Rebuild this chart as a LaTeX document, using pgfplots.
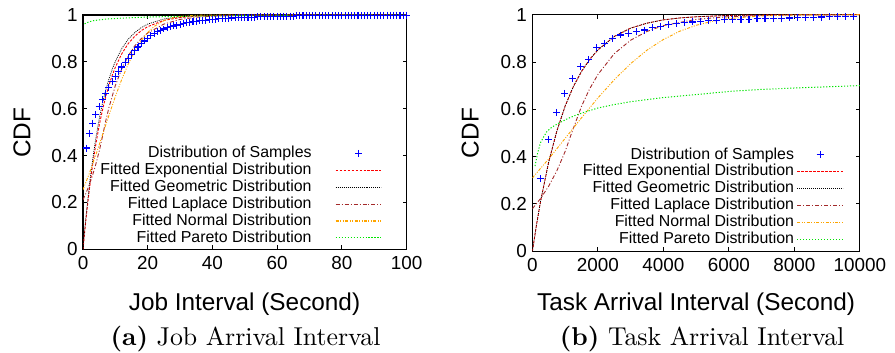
\documentclass[border=0pt]{standalone}
\usepackage{fontspec}
\setmainfont{Liberation Sans}
\newfontfamily\capfont{lmroman10-regular}[Extension=.otf, BoldFont=lmroman10-bold]
\usepackage{pgfplots}
\pgfplotsset{compat=1.18}

% one colour set per use (plots / legend of each panel)
\definecolor{cblueA}{RGB}{0,0,255}\definecolor{credA}{RGB}{255,0,0}\definecolor{cblkA}{RGB}{0,0,0}
\definecolor{cbrnA}{RGB}{165,42,42}\definecolor{corgA}{RGB}{255,165,0}\definecolor{cgrnA}{RGB}{0,230,0}
\definecolor{cblueB}{RGB}{0,0,254}\definecolor{credB}{RGB}{254,0,0}\definecolor{cblkB}{RGB}{1,1,1}
\definecolor{cbrnB}{RGB}{164,42,42}\definecolor{corgB}{RGB}{254,165,0}\definecolor{cgrnB}{RGB}{0,229,0}
\definecolor{cblueC}{RGB}{0,0,253}\definecolor{credC}{RGB}{253,0,0}\definecolor{cblkC}{RGB}{2,2,2}
\definecolor{cbrnC}{RGB}{163,42,42}\definecolor{corgC}{RGB}{253,165,0}\definecolor{cgrnC}{RGB}{0,228,0}
\definecolor{cblueD}{RGB}{0,0,252}\definecolor{credD}{RGB}{252,0,0}\definecolor{cblkD}{RGB}{3,3,3}
\definecolor{cbrnD}{RGB}{162,42,42}\definecolor{corgD}{RGB}{252,165,0}\definecolor{cgrnD}{RGB}{0,227,0}

\pgfplotsset{
  cdfax/.style={
    scale only axis,
    ymin=0, ymax=1,
    ytick={0,0.2,0.4,0.6,0.8,1},
    yticklabels={0,0.2,0.4,0.6,0.8,1},
    tick align=inside,
    major tick length=4bp,
    axis line style={line width=1.2pt},
    every tick/.style={black, line width=0.9pt},
    tick label style={font=\fontsize{19}{20}\selectfont},
    /pgf/number format/assume math mode=true,
    xticklabel style={yshift=-4bp},
    yticklabel style={xshift=-2bp},
    legend plot pos=right,
    legend cell align=right,
    legend image code/.code={\draw[mark repeat=2,mark phase=2,##1,line width=1.2pt] plot coordinates {(0bp,0bp) (23bp,0bp) (46bp,0bp)};},
    legend style={draw=none, fill=none, anchor=south east, inner sep=0pt, row sep=0pt,
      font=\fontsize{16}{17}\selectfont,
      nodes={inner sep=0.5pt, text height=12.2pt, text depth=3.8pt}},
  },
  samp/.style={only marks, mark=+, mark size=3.5bp, color=cblue#1, draw=cblue#1,
    mark options={draw=cblue#1, line width=1.1pt, solid}},
  fexp/.style={color=cred#1, draw=cred#1, no marks, line width=0.9pt, dash pattern=on 2.5bp off 1.5bp},
  fgeo/.style={color=cblk#1, draw=cblk#1, no marks, line width=0.7pt, dash pattern=on 1bp off 1bp},
  flap/.style={color=cbrn#1, draw=cbrn#1, no marks, line width=0.9pt, dash pattern=on 4bp off 2bp on 1bp off 2bp},
  fnor/.style={color=corg#1, draw=corg#1, no marks, line width=0.9pt, dash pattern=on 3bp off 1.5bp on 1bp off 1.5bp on 1bp off 1.5bp},
  fpar/.style={color=cgrn#1, draw=cgrn#1, no marks, line width=1pt, dash pattern=on 1.2bp off 1.8bp},
}

\begin{document}
\makeatletter
\def\set@color{}\def\reset@color{}
\makeatother
\begin{tikzpicture}
\useasboundingbox (0,0) rectangle (895bp,354bp);

% ---------------- (a) ----------------
\begin{axis}[cdfax, at={(80.5bp,104bp)}, anchor=south west,
  width=324.5bp, height=235bp,
  xmin=0, xmax=100, xtick={0,20,40,60,80,100},
  xticklabels={0,20,40,60,80,100},
  legend style={at={(0.925,0.0115)}, column sep=23bp}]
\addplot[samp=A, forget plot] coordinates {
(1,0.432) (2,0.493) (3,0.538) (4,0.576) (5,0.609) (6,0.640) (7,0.666) (8,0.691) (9,0.715) (10,0.737)
(11,0.758) (12,0.778) (13,0.797) (14,0.815) (15,0.832) (16,0.848) (17,0.863) (18,0.877) (19,0.889) (20,0.900)
(21,0.912) (22,0.922) (23,0.929) (24,0.935) (25,0.940) (26,0.945) (27,0.949) (28,0.953) (29,0.957) (30,0.960)
(31,0.963) (32,0.966) (33,0.969) (34,0.971) (35,0.973) (36,0.975) (37,0.976) (38,0.978) (39,0.979) (40,0.981)
(41,0.982) (42,0.983) (43,0.984) (44,0.985) (45,0.986) (46,0.987) (47,0.988) (48,0.988) (49,0.989) (50,0.990)
(51,0.990) (52,0.991) (53,0.991) (54,0.992) (55,0.992) (56,0.993) (57,0.993) (58,0.993) (59,0.994) (60,0.994)
(61,0.994) (62,0.995) (63,0.995) (64,0.995) (65,0.995) (66,0.996) (67,0.996) (68,0.996) (69,0.996) (70,0.996)
(71,0.997) (72,0.997) (73,0.997) (74,0.997) (75,0.997) (76,0.997) (77,0.997) (78,0.997) (79,0.997) (80,0.997)
(81,0.998) (82,0.998) (83,0.998) (84,0.998) (85,0.998) (86,0.998) (87,0.998) (88,0.998) (89,0.998) (90,0.998)
(91,0.999) (92,0.999) (93,0.999) (94,0.999) (95,0.999) (96,0.999) (97,0.999) (98,0.999) (99,0.999) (100,0.999)
};
\addplot[fexp=A, forget plot] coordinates {
(0,0) (0.5,0.072) (1,0.139) (1.5,0.201) (2,0.259) (3,0.362) (4,0.451) (5,0.528) (6,0.593) (7,0.650)
(8,0.699) (9,0.741) (10,0.777) (12,0.835) (14,0.878) (16,0.909) (18,0.933) (20,0.950) (25,0.977)
(30,0.989) (35,0.995) (40,0.9975) (50,0.9994) (60,0.9999) (100,1)
};
\addplot[fgeo=A, forget plot] coordinates {
(0,0) (0.5,0.078) (1,0.150) (2,0.277) (3,0.385) (4,0.477) (5,0.555) (6,0.622) (7,0.678) (8,0.726)
(9,0.767) (10,0.802) (12,0.857) (14,0.897) (16,0.925) (18,0.946) (20,0.961) (25,0.983) (30,0.992)
(35,0.9966) (40,0.9985) (50,0.9997) (100,1)
};
\addplot[flap=A, forget plot] coordinates {
(0,0.211) (1,0.242) (2,0.277) (3,0.318) (4,0.365) (5,0.418) (6,0.480) (6.3,0.5) (7,0.546) (8,0.604)
(10,0.699) (12,0.771) (14,0.826) (16,0.868) (18,0.899) (20,0.923) (25,0.961) (30,0.981) (35,0.990)
(40,0.995) (50,0.9987) (60,0.9997) (100,1)
};
\addplot[fnor=A, forget plot] coordinates {
(0,0.254) (2,0.325) (4,0.404) (6,0.487) (8,0.571) (10,0.652) (12,0.726) (14,0.791) (16,0.846)
(18,0.891) (20,0.925) (22,0.951) (25,0.9755) (28,0.9888) (30,0.9937) (35,0.9987) (40,0.9998) (100,1)
};
\addplot[fpar=A, forget plot] coordinates {
(0.5,0.962) (1,0.966) (2,0.971) (3,0.975) (5,0.979) (7,0.982) (10,0.985) (15,0.988) (20,0.991)
(30,0.994) (40,0.996) (60,0.998) (80,0.999) (100,0.999)
};
\addlegendimage{samp=B}\addlegendentry{Distribution of Samples}
\addlegendimage{fexp=B}\addlegendentry{Fitted Exponential Distribution}
\addlegendimage{fgeo=B}\addlegendentry{Fitted Geometric Distribution}
\addlegendimage{flap=B}\addlegendentry{Fitted Laplace Distribution}
\addlegendimage{fnor=B}\addlegendentry{Fitted Normal Distribution}
\addlegendimage{fpar=B}\addlegendentry{Fitted Pareto Distribution}
\end{axis}

% ---------------- (b) ----------------
\begin{axis}[cdfax, at={(531.3bp,102bp)}, anchor=south west,
  width=328.4bp, height=237.3bp,
  xmin=0, xmax=10000, xtick={0,2000,4000,6000,8000,10000},
  xticklabels={0,2000,4000,6000,8000,10000}, scaled x ticks=false,
  legend style={at={(0.951,0.0139)}, column sep=2bp}]
\addplot[samp=C, forget plot] coordinates {
(245,0.306) (490,0.472) (735,0.587) (980,0.667) (1225,0.729) (1470,0.779) (1715,0.809) (1960,0.861)
(2205,0.879) (2450,0.899) (2695,0.914) (2940,0.921) (3185,0.928) (3430,0.935) (3675,0.944) (3920,0.951)
(4165,0.958) (4410,0.962) (4655,0.965) (4900,0.969) (5145,0.972) (5390,0.975) (5635,0.977) (5880,0.978)
(6125,0.979) (6370,0.980) (6615,0.981) (6860,0.982) (7105,0.983) (7350,0.984) (7595,0.985) (7840,0.986)
(8085,0.987) (8330,0.988) (8575,0.989) (8820,0.990) (9065,0.991) (9310,0.992) (9555,0.993) (9800,0.993)
};
\addplot[fexp=C, forget plot] coordinates {
(0,0) (125,0.112) (250,0.212) (500,0.379) (750,0.510) (1000,0.614) (1250,0.696) (1500,0.760)
(1750,0.811) (2000,0.851) (2500,0.908) (3000,0.943) (3500,0.964) (4000,0.978) (4500,0.986)
(5000,0.991) (6000,0.997) (7000,0.9987) (8000,0.9995) (10000,1)
};
\addplot[fgeo=C, forget plot] coordinates {
(0,0) (125,0.112) (250,0.212) (500,0.379) (750,0.510) (1000,0.614) (1250,0.696) (1500,0.760)
(1750,0.811) (2000,0.851) (2500,0.908) (3000,0.943) (3500,0.964) (4000,0.978) (4500,0.986)
(5000,0.991) (6000,0.997) (7000,0.9987) (8000,0.9995) (10000,1)
};
\addplot[flap=C, forget plot] coordinates {
(0,0.180) (250,0.223) (500,0.276) (750,0.341) (1000,0.422) (1199,0.5) (1500,0.613) (1750,0.687)
(2000,0.747) (2500,0.835) (3000,0.892) (3500,0.929) (4000,0.954) (5000,0.980) (6000,0.9916)
(7000,0.9964) (8000,0.9985) (10000,0.9997)
};
\addplot[fnor=C, forget plot] coordinates {
(0,0.310) (500,0.391) (1000,0.477) (1500,0.564) (2000,0.648) (2500,0.725) (3000,0.793) (3500,0.850)
(4000,0.895) (4500,0.930) (5000,0.955) (5500,0.972) (6000,0.9835) (7000,0.9949) (8000,0.9987) (10000,1)
};
\addplot[fpar=C, forget plot] coordinates {
(80,0.360) (150,0.410) (244,0.458) (350,0.485) (448,0.507) (600,0.525) (853,0.545) (1100,0.562)
(1361,0.577) (1600,0.588) (1990,0.605) (2500,0.620) (3000,0.632) (4020,0.650) (5000,0.662)
(6050,0.676) (7000,0.684) (8000,0.690) (9000,0.695) (10000,0.700)
};
\addlegendimage{samp=D}\addlegendentry{Distribution of Samples}
\addlegendimage{fexp=D}\addlegendentry{Fitted Exponential Distribution}
\addlegendimage{fgeo=D}\addlegendentry{Fitted Geometric Distribution}
\addlegendimage{flap=D}\addlegendentry{Fitted Laplace Distribution}
\addlegendimage{fnor=D}\addlegendentry{Fitted Normal Distribution}
\addlegendimage{fpar=D}\addlegendentry{Fitted Pareto Distribution}
\end{axis}

% labels and captions
\node[rotate=90, font=\fontsize{24.5}{26}\selectfont] at (19.2bp,221bp) {CDF};
\node[rotate=90, font=\fontsize{24.5}{26}\selectfont] at (469bp,220.5bp) {CDF};
\node[anchor=base, font=\fontsize{24.5}{26}\selectfont] at (242.5bp,43bp) {Job Interval (Second)};
\node[anchor=base, font=\fontsize{24.5}{26}\selectfont] at (695.5bp,43bp) {Task Arrival Interval (Second)};
\node[anchor=base, font=\capfont\fontsize{26}{28}\selectfont] at (243.5bp,7bp) {\textbf{(a)} Job Arrival Interval};
\node[anchor=base, font=\capfont\fontsize{26}{28}\selectfont] at (701.5bp,7bp) {\textbf{(b)} Task Arrival Interval};
\end{tikzpicture}
\end{document}
